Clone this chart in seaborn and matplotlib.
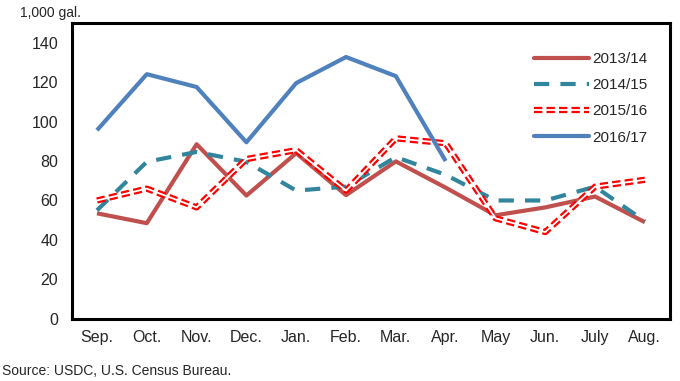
import pandas as pd
import numpy as np
import matplotlib
matplotlib.use("Agg")
import matplotlib.pyplot as plt
import seaborn as sns
from matplotlib.lines import Line2D
from matplotlib.legend_handler import HandlerTuple

months = ['Sep.', 'Oct.', 'Nov.', 'Dec.', 'Jan.', 'Feb.', 'Mar.', 'Apr.', 'May', 'Jun.', 'July', 'Aug.']
y2013_14 = [53.5, 48.5, 88.5, 62.5, 84, 62.7, 79.8, 66.5, 52.5, 56.5, 62, 49]
y2014_15 = [55, 79.6, 84.6, 79.6, 65, 67, 82, 73, 60, 60, 67, 49.5]
y2015_16 = [60, 66, 56.5, 81, 85.5, 65, 91.5, 89, 51, 44, 67, 70.5]
y2016_17 = [95.6, 124, 117.5, 89.5, 119.5, 132.7, 123, 80]
seasons = ['2013/14', '2014/15', '2015/16', '2016/17']

sns.set_style("white")
plt.rcParams['font.family'] = ['Liberation Sans', 'DejaVu Sans']
plt.rcParams['lines.scale_dashes'] = False

frames = []
for name, vals in zip(seasons, [y2013_14, y2014_15, y2015_16, y2016_17]):
    frames.append(pd.DataFrame({'month': months[:len(vals)], 'pos': range(len(vals)),
                                'value': vals, 'season': name}))
df = pd.concat(frames, ignore_index=True)

fig = plt.figure(figsize=(6.8, 3.81), dpi=100)
ax = fig.add_axes([0.106, 0.163, 0.879, 0.777])

styles = {
    '2013/14': dict(color='#C0504D', lw=3.0, ls='-'),
    '2014/15': dict(color='#31859C', lw=3.0, ls=(0, (11, 8))),
    '2015/16': dict(color='#FF0000', lw=4.5, ls=(0, (6, 3))),
    '2016/17': dict(color='#4F81BD', lw=3.0, ls='-'),
}
handles = []
for name in seasons:
    st = styles[name]
    sub = df[df['season'] == name]
    sns.lineplot(data=sub, x='pos', y='value', ax=ax, color=st['color'],
                 linewidth=st['lw'], linestyle=st['ls'], legend=False)
    ax.get_lines()[-1].set_solid_capstyle('butt')
    proxy = Line2D([], [], color=st['color'], lw=st['lw'], ls=st['ls'],
                   solid_capstyle='round' if st['ls'] == '-' else 'butt')
    if name == '2015/16':
        sns.lineplot(data=sub, x='pos', y='value', ax=ax, color='white',
                     linewidth=1.3, linestyle='-', legend=False)
        handles.append((proxy, Line2D([], [], color='white', lw=1.3)))
    else:
        handles.append(proxy)

ax.set_xlim(-0.5, 11.5)
ax.set_ylim(0, 150)
ax.set_yticks(np.arange(0, 141, 20))
ax.set_xticks(range(12))
ax.set_xticklabels(months)
ax.set_xticks(np.arange(-0.5, 12, 1), minor=True)
ax.tick_params(axis='x', which='major', length=0, pad=8, labelsize=11.5)
ax.tick_params(axis='x', which='minor', length=4, direction='out', color='#888888')
ax.tick_params(axis='y', length=4, direction='out', color='#888888', labelsize=11.5, pad=6)
ax.set_xlabel('')
ax.set_ylabel('')
for sp in ax.spines.values():
    sp.set_visible(True)
    sp.set_color('black')
    sp.set_linewidth(2.2)

ax.legend(handles, seasons,
          handler_map={tuple: HandlerTuple(ndivide=1, pad=0)},
          loc='upper left', bbox_to_anchor=(0.765, 0.9), bbox_transform=fig.transFigure,
          frameon=False, fontsize=11, handlelength=3.6, handletextpad=0.2,
          labelspacing=0.8)

fig.text(0.03, 0.965, '1,000 gal.', fontsize=10, va='center', ha='left')
fig.text(0.003, 0.025, 'Source: USDC, U.S. Census Bureau.', fontsize=10, va='center', ha='left')

fig.savefig('out.png', dpi=100)
